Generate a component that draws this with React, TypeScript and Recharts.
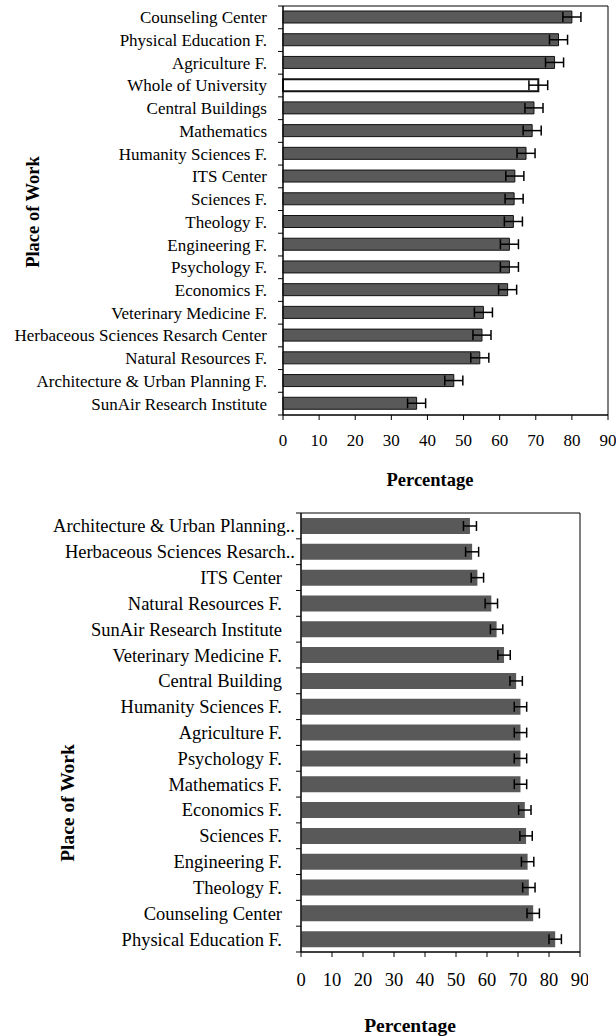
import React from 'react';
import { BarChart, Bar, XAxis, YAxis, ErrorBar, Cell, ReferenceArea, Label } from 'recharts';

const topCategories = [
  'Counseling Center',
  'Physical Education F.',
  'Agriculture F.',
  'Whole of University',
  'Central Buildings',
  'Mathematics',
  'Humanity Sciences F.',
  'ITS Center',
  'Sciences F.',
  'Theology F.',
  'Engineering F.',
  'Psychology F.',
  'Economics F.',
  'Veterinary Medicine F.',
  'Herbaceous Sciences Resarch  Center',
  'Natural Resources F.',
  'Architecture & Urban Planning F.',
  'SunAir Research Institute',
];
const topValues = [80.0, 76.3, 75.2, 70.7, 69.5, 69.0, 67.3, 64.2, 64.0, 63.8, 62.7, 62.7, 62.2, 55.5, 55.1, 54.5, 47.3, 37.0];
const topErrors = [2.5, 2.5, 2.5, 2.6, 2.5, 2.5, 2.5, 2.5, 2.5, 2.5, 2.5, 2.5, 2.5, 2.5, 2.5, 2.5, 2.5, 2.5];

const bottomCategories = [
  'Architecture & Urban Planning..',
  'Herbaceous Sciences Resarch..',
  'ITS Center',
  'Natural Resources F.',
  'SunAir Research Institute',
  'Veterinary Medicine F.',
  'Central Building',
  'Humanity Sciences F.',
  'Agriculture F.',
  'Psychology F.',
  'Mathematics F.',
  'Economics F.',
  'Sciences F.',
  'Engineering F.',
  'Theology F.',
  'Counseling Center',
  'Physical Education F.',
];
const bottomValues = [54.5, 55.2, 56.9, 61.4, 63.1, 65.5, 69.4, 70.8, 70.8, 70.8, 70.8, 72.2, 72.6, 73.1, 73.5, 74.9, 82.0];
const bottomErrors = [2.1, 2.1, 2.0, 2.0, 2.0, 2.0, 2.0, 2.0, 2.0, 2.0, 2.0, 2.0, 2.0, 2.0, 2.0, 2.0, 2.0];

const percentTicks = [0, 10, 20, 30, 40, 50, 60, 70, 80, 90];
const highlighted = 'Whole of University';

const FONT = '"Liberation Serif", "Times New Roman", serif';

const toRows = (cats: string[], vals: number[], errs: number[]) =>
  cats.map((name, i) => ({ name, value: vals[i], err: errs[i] }));

const topData = toRows(topCategories, topValues, topErrors);
const bottomData = toRows(bottomCategories, bottomValues, bottomErrors);

// excel-style category ticks: marks sit between categories, not on them
const makeCategoryTick =
  (axisX: number, textRight: number, half: number, cutShift: number, fontSize: number) => (props: any) => {
    const { y, payload, index } = props;
    const cut = String(payload.value).endsWith('..');
    return (
      <g>
        {index === 0 && <line x1={axisX - 5} x2={axisX} y1={y - half} y2={y - half} stroke="#000" />}
        <line x1={axisX - 5} x2={axisX} y1={y + half} y2={y + half} stroke="#000" />
        <text
          x={textRight + (cut ? cutShift : 0)}
          y={y}
          dy="0.35em"
          textAnchor="end"
          fontFamily={FONT}
          fontSize={fontSize}
          fill="#000"
        >
          {payload.value}
        </text>
      </g>
    );
  };

const titleTop = { fontFamily: FONT, fontSize: 18.5, fontWeight: 700, fill: '#000' };
const titleBottom = { fontFamily: FONT, fontSize: 19.5, fontWeight: 700, fill: '#000' };

const topTick = makeCategoryTick(283, 267, 409 / 18 / 2, 0, 17);
const bottomTick = makeCategoryTick(301, 282, 439 / 17 / 2, 13, 18.5);

export default function App() {
  return (
    <div style={{ position: 'absolute', left: 0, top: 0, width: 616, height: 1036, background: '#fff', overflow: 'hidden' }}>
      <div style={{ position: 'absolute', left: 0, top: 0 }}>
        <BarChart width={616} height={500} data={topData} layout="vertical" margin={{ top: 6, right: 8, bottom: 0, left: 0 }}>
          <XAxis
            type="number"
            domain={[0, 90]}
            ticks={percentTicks}
            interval={0}
            height={85}
            tickSize={5}
            tickMargin={14}
            axisLine={{ stroke: '#000' }}
            tickLine={{ stroke: '#000' }}
            tick={{ fill: '#000', fontFamily: FONT, fontSize: 17 }}
          >
            <Label content={() => <text x={430} y={486} textAnchor="middle" style={titleTop}>Percentage</text>} />
          </XAxis>
          <YAxis type="category" dataKey="name" width={283} interval={0} axisLine={{ stroke: '#000' }} tickLine={false} tick={topTick}>
            <Label
              content={() => (
                <text transform="translate(33,212) rotate(-90)" dy="0.35em" textAnchor="middle" style={titleTop}>
                  Place of Work
                </text>
              )}
            />
          </YAxis>
          <ReferenceArea x1={0} x2={90} fill="none" stroke="#000" ifOverflow="visible" />
          <Bar dataKey="value" barSize={12} isAnimationActive={false}>
            {topData.map((d) => (
              <Cell
                key={d.name}
                fill={d.name === highlighted ? '#ffffff' : '#595959'}
                stroke="#111"
                strokeWidth={d.name === highlighted ? 2 : 1}
              />
            ))}
            <ErrorBar dataKey="err" direction="x" width={5} stroke="#000" strokeWidth={1.5} />
          </Bar>
        </BarChart>
      </div>

      <div style={{ position: 'absolute', left: 0, top: 500, width: 588, height: 536, overflow: 'hidden' }}>
        <BarChart width={616} height={536} data={bottomData} layout="vertical" margin={{ top: 13, right: 36, bottom: 0, left: 0 }}>
          <XAxis
            type="number"
            domain={[0, 90]}
            ticks={percentTicks}
            interval={0}
            height={84}
            tickSize={5}
            tickMargin={16}
            axisLine={{ stroke: '#000' }}
            tickLine={{ stroke: '#000' }}
            tick={{ fill: '#000', fontFamily: FONT, fontSize: 18.5 }}
          >
            <Label content={() => <text x={410} y={532} textAnchor="middle" style={titleBottom}>Percentage</text>} />
          </XAxis>
          <YAxis type="category" dataKey="name" width={301} interval={0} axisLine={{ stroke: '#000' }} tickLine={false} tick={bottomTick}>
            <Label
              content={() => (
                <text transform="translate(67,303) rotate(-90)" dy="0.35em" textAnchor="middle" style={titleBottom}>
                  Place of Work
                </text>
              )}
            />
          </YAxis>
          <ReferenceArea x1={0} x2={90} fill="none" stroke="#000" ifOverflow="visible" />
          <Bar dataKey="value" barSize={16} fill="#595959" isAnimationActive={false}>
            <ErrorBar dataKey="err" direction="x" width={5} stroke="#000" strokeWidth={1.5} />
          </Bar>
        </BarChart>
      </div>
    </div>
  );
}
